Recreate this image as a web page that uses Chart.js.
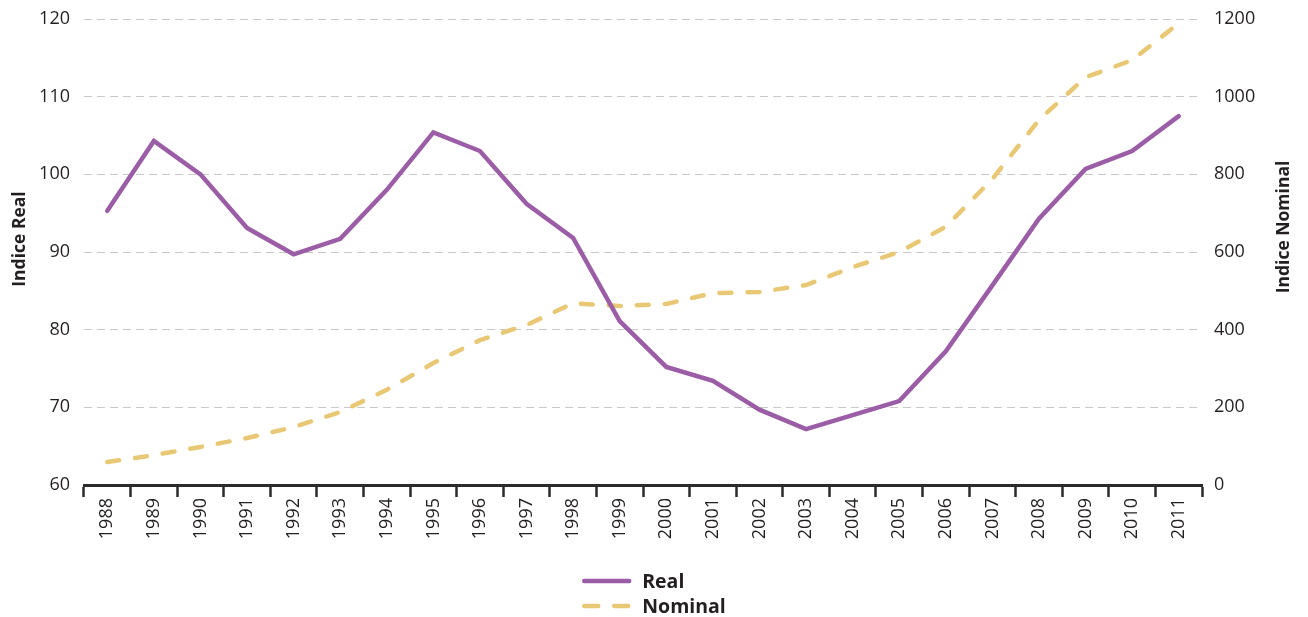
<!DOCTYPE html>
<html lang="en">
<head>
    <meta charset="UTF-8">
    <title>Indice Real e Nominal</title>
    <script src="https://cdn.jsdelivr.net/npm/chart.js"></script>
    <style>
        body { margin: 0; background: #fff; }
        #wrap { width: 1308px; height: 617px; }
    </style>
</head>
<body>
    <div id="wrap">
        <canvas id="myChart" aria-label="chart" role="img"></canvas>
    </div>

    <script>
        // Data
        const years = ['1988', '1989', '1990', '1991', '1992', '1993', '1994', '1995', '1996', '1997', '1998', '1999',
                       '2000', '2001', '2002', '2003', '2004', '2005', '2006', '2007', '2008', '2009', '2010', '2011'];
        const realValues = [95.3, 104.3, 100.0, 93.1, 89.7, 91.7, 98.0, 105.4, 103.0, 96.2, 91.8, 81.1,
                            75.2, 73.4, 69.7, 67.2, 69.0, 70.8, 77.2, 85.7, 94.3, 100.7, 103.0, 107.5];
        const nominalValues = [59, 77, 98, 121, 149, 188, 245, 314, 373, 412, 468, 461,
                               466, 494, 497, 515, 561, 600, 665, 788, 940, 1050, 1094, 1189];

        const textColor = '#231f20';
        const font = 'Open Sans';

        // Two-row legend at the bottom, drawn on the canvas
        const stackedLegend = {
            id: 'stackedLegend',
            afterDraw(chart) {
                const ctx = chart.ctx;
                const sets = chart.data.datasets;
                ctx.save();
                ctx.font = 'bold 19.5px "' + font + '"';
                const textW = Math.max(...sets.map(d => ctx.measureText(d.label).width));
                const sample = 47, gap = 13;
                const x0 = (chart.width - (sample + gap + textW)) / 2;
                sets.forEach((d, i) => {
                    const y = 581 + i * 25;
                    ctx.strokeStyle = d.borderColor;
                    ctx.lineWidth = d.borderWidth;
                    ctx.lineCap = 'round';
                    ctx.setLineDash(d.borderDash ? [14, 16] : []);
                    ctx.beginPath();
                    ctx.moveTo(x0 + 2, y);
                    ctx.lineTo(x0 + sample, y);
                    ctx.stroke();
                    ctx.fillStyle = textColor;
                    ctx.textBaseline = 'middle';
                    ctx.fillText(d.label, x0 + sample + gap, y + 1);
                });
                ctx.restore();
            }
        };

        // Axis titles, both reading upward
        const axisTitles = {
            id: 'axisTitles',
            afterDraw(chart) {
                const ctx = chart.ctx;
                const draw = (text, x, y) => {
                    ctx.save();
                    ctx.translate(x, y);
                    ctx.rotate(-Math.PI / 2);
                    ctx.font = 'bold 17.5px "' + font + '"';
                    ctx.fillStyle = textColor;
                    ctx.textAlign = 'center';
                    ctx.textBaseline = 'middle';
                    ctx.fillText(text, 0, 0);
                    ctx.restore();
                };
                draw('Indice Real', 20, 239);
                draw('Indice Nominal', 1284, 227);
            }
        };

        const ctx = document.getElementById('myChart').getContext('2d');

        new Chart(ctx, {
            type: 'line',
            data: {
                labels: years,
                datasets: [{
                    label: 'Real',
                    data: realValues,
                    yAxisID: 'y',
                    borderColor: '#9b5ea6',
                    borderWidth: 4.5,
                    borderCapStyle: 'round',
                    pointRadius: 0,
                    tension: 0,
                }, {
                    label: 'Nominal',
                    data: nominalValues,
                    yAxisID: 'y2',
                    borderColor: '#e8c874',
                    borderWidth: 4.5,
                    borderDash: [12, 16],
                    borderCapStyle: 'round',
                    pointRadius: 0,
                    tension: 0,
                }]
            },
            options: {
                responsive: true,
                maintainAspectRatio: false,
                animation: false,
                layout: {
                    padding: { top: 19, left: 0, right: 0, bottom: 70 },
                },
                plugins: {
                    legend: { display: false },
                    tooltip: { enabled: false },
                },
                scales: {
                    x: {
                        offset: true,
                        afterFit: s => { s.height = 62; },
                        grid: {
                            offset: true,
                            drawOnChartArea: false,
                            tickLength: 12,
                            tickWidth: 2.5,
                            color: '#2b2b2b',
                            tickColor: '#2b2b2b',
                        },
                        border: { display: true, color: '#2b2b2b', width: 3 },
                        ticks: {
                            minRotation: 90,
                            maxRotation: 90,
                            autoSkip: false,
                            padding: 1,
                            color: textColor,
                            font: { family: font, size: 18 },
                        },
                    },
                    y: {
                        position: 'left',
                        min: 60,
                        max: 120,
                        afterFit: s => { s.width = 84; s.paddingTop = 0; s.paddingBottom = 0; },
                        ticks: {
                            stepSize: 10,
                            padding: 14,
                            color: textColor,
                            font: { family: font, size: 18 },
                        },
                        grid: { color: '#c8c8c8', lineWidth: 1, drawTicks: false },
                        border: { display: false, dash: [8, 5] },
                    },
                    y2: {
                        position: 'right',
                        min: 0,
                        max: 1200,
                        afterFit: s => { s.width = 106; s.paddingTop = 0; s.paddingBottom = 0; },
                        ticks: {
                            stepSize: 200,
                            padding: 12,
                            color: textColor,
                            font: { family: font, size: 18 },
                            callback: v => String(v),
                        },
                        grid: { display: false, drawTicks: false },
                        border: { display: false },
                    },
                },
            },
            plugins: [stackedLegend, axisTitles],
        });
    </script>
</body>
</html>
